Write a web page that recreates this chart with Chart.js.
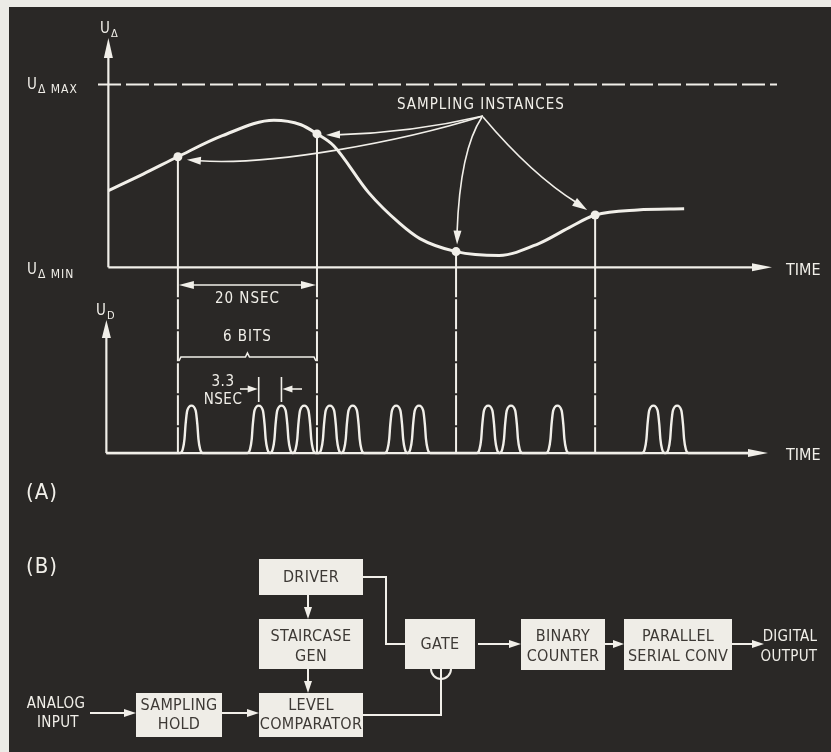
<!DOCTYPE html>
<html>
<head>
<meta charset="utf-8">
<script src="https://cdn.jsdelivr.net/npm/chart.js@4.4.1/dist/chart.umd.min.js"></script>
<style>
  html, body { margin: 0; padding: 0; background: #2a2826; }
  #wrap { position: relative; width: 831px; height: 752px; }
</style>
</head>
<body>
<div id="wrap"><canvas id="fig"></canvas></div>
<script>
// (A) analog signal U_delta against time (ns)
const curveTimes  = [0, 5, 10, 16.4, 23.8, 27.7, 30, 32.4, 37.4, 41.9, 44.8, 50, 56.2, 61.9, 66.2, 70, 76.1, 82.8];
const curveValues = [0.42, 0.51, 0.605, 0.72, 0.805, 0.78, 0.73, 0.665, 0.41, 0.24, 0.157, 0.086, 0.065, 0.13, 0.216, 0.286, 0.314, 0.32];

// sampling instances
const sampleTimes  = [10, 30, 50, 70];
const sampleValues = [0.605, 0.73, 0.086, 0.286];

// (A) digital output U_D: centre of every pulse (ns)
const pulseTimes = [11.95, 21.62, 24.89, 28.17, 31.86, 35.14, 41.39, 44.67, 54.62, 57.9, 64.58, 78.38, 81.79];
// shape of one pulse: offset from its centre (ns) and relative height
const pulseOffsets = [-1.63, -1.25, -1.0, -0.85, -0.6, 0, 0.6, 0.85, 1.0, 1.25, 1.63];
const pulseHeights = [0, 0.08, 0.3, 0.6, 0.9, 1, 0.9, 0.6, 0.3, 0.08, 0];

// (B) block diagram labels
const blockLabels = {
  driver: ['DRIVER'],
  stair: ['STAIRCASE', 'GEN'],
  level: ['LEVEL', 'COMPARATOR'],
  hold: ['SAMPLING', 'HOLD'],
  gate: ['GATE'],
  counter: ['BINARY', 'COUNTER'],
  conv: ['PARALLEL', 'SERIAL CONV']
};

const INK = '#f1efe9';
const PAPER = '#2a2826';
const BOX_TEXT = '#3d3935';
const FONT = '"DejaVu Sans Condensed", "DejaVu Sans", sans-serif';

const W = 831, H = 752;
const NS_PX = 7.03;

// value ranges so that the hidden scales line up with the drawing
function xSpan(zeroPx, ppu) { return { min: -zeroPx / ppu, max: (W - zeroPx) / ppu }; }
function ySpan(zeroPx, ppu) { return { min: (zeroPx - H) / ppu, max: zeroPx / ppu }; }

const pulseWave = [{ x: -0.3, y: 0 }];
pulseTimes.forEach(c => {
  pulseOffsets.forEach((o, k) => pulseWave.push({ x: c + o, y: pulseHeights[k] }));
});
pulseWave.push({ x: 92, y: 0 });

function head(ctx, fx, fy, tx, ty, len, half) {
  const a = Math.atan2(ty - fy, tx - fx);
  const c = Math.cos(a), s = Math.sin(a);
  ctx.beginPath();
  ctx.moveTo(tx, ty);
  ctx.lineTo(tx - len * c + half * s, ty - len * s - half * c);
  ctx.lineTo(tx - len * c - half * s, ty - len * s + half * c);
  ctx.closePath();
  ctx.fill();
}

function poly(ctx, pts) {
  ctx.beginPath();
  ctx.moveTo(pts[0][0], pts[0][1]);
  for (let i = 1; i < pts.length; i++) ctx.lineTo(pts[i][0], pts[i][1]);
  ctx.stroke();
}

function label(ctx, s, x, y, size, align, spacing, color) {
  ctx.font = size + 'px ' + FONT;
  ctx.letterSpacing = (spacing || 0) + 'px';
  ctx.textAlign = align || 'left';
  ctx.textBaseline = 'middle';
  ctx.fillStyle = color || INK;
  ctx.fillText(s, x, y);
}

// letter with a subscript, e.g. U with a small delta
function subLabel(ctx, main, sub, x, y, size, subSize) {
  ctx.textBaseline = 'alphabetic';
  ctx.textAlign = 'left';
  ctx.fillStyle = INK;
  ctx.font = size + 'px ' + FONT;
  ctx.letterSpacing = '0px';
  ctx.fillText(main, x, y);
  const w = ctx.measureText(main).width;
  ctx.font = subSize + 'px ' + FONT;
  ctx.letterSpacing = '1px';
  ctx.fillText(sub, x + w + 1, y + 4);
}

function box(ctx, x0, y0, x1, y1, lines, ys) {
  ctx.fillStyle = '#efede7';
  ctx.fillRect(x0, y0, x1 - x0, y1 - y0);
  lines.forEach((s, i) => label(ctx, s, (x0 + x1) / 2, ys[i], 16, 'center', 0.3, BOX_TEXT));
}

const paperPlugin = {
  id: 'paper',
  beforeDraw(chart) {
    const ctx = chart.ctx;
    ctx.save();
    ctx.fillStyle = '#ecebe6';
    ctx.fillRect(0, 0, W, H);
    ctx.fillStyle = PAPER;
    ctx.fillRect(9, 7, W - 9, H - 7);
    ctx.restore();
  }
};

const figurePlugin = {
  id: 'figure',
  afterDatasetsDraw(chart) {
    const ctx = chart.ctx;
    const sx = chart.scales.x, ya = chart.scales.yA, yd = chart.scales.yD;
    const px = t => sx.getPixelForValue(t);
    const pa = u => ya.getPixelForValue(u);
    const pd = v => yd.getPixelForValue(v);
    ctx.save();
    ctx.strokeStyle = INK;
    ctx.fillStyle = INK;
    ctx.lineCap = 'butt';

    // ---- upper axes
    const ax = px(0), a0 = pa(0);
    ctx.lineWidth = 2.2;
    poly(ctx, [[ax, a0], [ax, 50]]);
    head(ctx, ax, 60, ax, 38, 20, 4.5);
    poly(ctx, [[ax, a0], [758, a0]]);
    head(ctx, 740, a0, 772, a0, 20, 4);
    ctx.setLineDash([23, 5]);
    ctx.lineWidth = 2;
    poly(ctx, [[98, pa(1)], [777, pa(1)]]);
    ctx.setLineDash([]);

    // ---- lower axes
    const bx = ax - 2, b0 = pd(0);
    ctx.lineWidth = 2.2;
    poly(ctx, [[bx, b0], [bx, 330]]);
    head(ctx, bx, 340, bx, 320, 18, 4.5);
    poly(ctx, [[bx, b0], [755, b0]]);
    head(ctx, 740, b0, 768, b0, 20, 4);

    // ---- sampling verticals
    sampleTimes.forEach((t, i) => {
      const x = px(t);
      ctx.lineWidth = 2;
      poly(ctx, [[x, pa(sampleValues[i])], [x, a0]]);
      ctx.setLineDash([30, 2]);
      poly(ctx, [[x, a0], [x, b0]]);
      ctx.setLineDash([]);
    });

    // ---- axis labels
    subLabel(ctx, 'U', 'Δ', 100, 33, 15, 11);
    subLabel(ctx, 'U', 'Δ MAX', 27, pa(1) + 4, 15, 12);
    subLabel(ctx, 'U', 'Δ MIN', 27, a0 + 7, 15, 12);
    subLabel(ctx, 'U', 'D', 96, 315, 15, 11);
    label(ctx, 'TIME', 786, a0 + 4, 16, 'left', 0);
    label(ctx, 'TIME', 786, b0 + 3, 16, 'left', 0);

    // ---- sampling instances callout
    label(ctx, 'SAMPLING INSTANCES', 397, 105, 15, 'left', 1);
    const ox = 483, oy = 116;
    const s1 = [px(sampleTimes[0]), pa(sampleValues[0])];
    const s2 = [px(sampleTimes[1]), pa(sampleValues[1])];
    const s3 = [px(sampleTimes[2]), pa(sampleValues[2])];
    const s4 = [px(sampleTimes[3]), pa(sampleValues[3])];
    ctx.lineWidth = 1.6;
    // to sample 2
    let ex = s2[0] + 9, ey = s2[1] + 1;
    ctx.beginPath(); ctx.moveTo(ox, oy); ctx.quadraticCurveTo(410, 133, ex + 10, ey); ctx.stroke();
    head(ctx, 380, ey - 1, ex, ey, 14, 4);
    // to sample 1
    ex = s1[0] + 9; ey = s1[1] + 3;
    ctx.beginPath(); ctx.moveTo(ox, oy); ctx.bezierCurveTo(400, 142, 270, 166, ex + 12, ey + 1); ctx.stroke();
    head(ctx, 240, ey + 4, ex, ey, 14, 4);
    // to sample 3
    ex = s3[0] + 1; ey = s3[1] - 7;
    ctx.beginPath(); ctx.moveTo(ox - 1, oy + 1); ctx.quadraticCurveTo(460, 150, ex, ey - 12); ctx.stroke();
    head(ctx, ex + 0.6, ey - 20, ex, ey, 14, 4);
    // to sample 4
    ex = s4[0] - 8; ey = s4[1] - 5;
    ctx.beginPath(); ctx.moveTo(ox, oy + 1); ctx.quadraticCurveTo(532, 175, ex - 10, ey - 7); ctx.stroke();
    head(ctx, ex - 20, ey - 13, ex, ey, 15, 4.5);

    // ---- 20 NSEC dimension
    const d1 = px(sampleTimes[0]), d2 = px(sampleTimes[1]);
    ctx.lineWidth = 1.6;
    poly(ctx, [[d1 + 10, 285], [d2 - 10, 285]]);
    head(ctx, d2, 285, d1 + 1, 285, 15, 4);
    head(ctx, d1, 285, d2 - 1, 285, 15, 4);
    label(ctx, '20 NSEC', (d1 + d2) / 2, 299, 15, 'center', 1);
    label(ctx, '6 BITS', (d1 + d2) / 2, 337, 15, 'center', 1);
    const mid = (d1 + d2) / 2;
    poly(ctx, [[d1 + 1, 361], [d1 + 3, 357], [mid - 2, 357], [mid, 353], [mid + 2, 357], [d2 - 3, 357], [d2 - 1, 361]]);

    // ---- 3.3 NSEC marks
    const m1 = px(pulseTimes[1]), m2 = px(pulseTimes[2]);
    ctx.lineWidth = 1.6;
    poly(ctx, [[m1, 377], [m1, 402]]);
    poly(ctx, [[m2, 377], [m2, 402]]);
    poly(ctx, [[240, 389], [m1 - 8, 389]]);
    head(ctx, 240, 389, m1 - 1, 389, 10, 3.5);
    poly(ctx, [[302, 389], [m2 + 8, 389]]);
    head(ctx, 302, 389, m2 + 1, 389, 10, 3.5);
    label(ctx, '3.3', 223, 382, 15, 'center', 0.5);
    label(ctx, 'NSEC', 223, 400, 15, 'center', 0.5);

    // ---- panel letters
    label(ctx, '(A)', 26, 493, 22, 'left', 1);
    label(ctx, '(B)', 26, 567, 22, 'left', 1);

    // ---- block diagram
    box(ctx, 259, 559, 363, 595, blockLabels.driver, [578]);
    box(ctx, 259, 619, 363, 669, blockLabels.stair, [637, 657]);
    box(ctx, 259, 693, 363, 737, blockLabels.level, [706, 725]);
    box(ctx, 136, 693, 222, 737, blockLabels.hold, [706, 725]);
    box(ctx, 405, 619, 475, 669, blockLabels.gate, [645]);
    box(ctx, 521, 619, 605, 670, blockLabels.counter, [637, 657]);
    box(ctx, 624, 619, 732, 670, blockLabels.conv, [637, 657]);

    ctx.strokeStyle = INK;
    ctx.fillStyle = INK;
    ctx.lineWidth = 2;
    poly(ctx, [[90, 713], [126, 713]]); head(ctx, 90, 713, 136, 713, 12, 4);
    poly(ctx, [[222, 713], [249, 713]]); head(ctx, 222, 713, 259, 713, 12, 4);
    poly(ctx, [[308, 595], [308, 610]]); head(ctx, 308, 595, 308, 619, 12, 4);
    poly(ctx, [[308, 669], [308, 684]]); head(ctx, 308, 669, 308, 693, 12, 4);
    poly(ctx, [[363, 577], [386, 577], [386, 644], [405, 644]]);
    poly(ctx, [[363, 715], [441, 715], [441, 669]]);
    ctx.beginPath(); ctx.arc(441, 669, 10, 0, Math.PI); ctx.stroke();
    poly(ctx, [[478, 644], [511, 644]]); head(ctx, 478, 644, 521, 644, 12, 4);
    poly(ctx, [[605, 644], [616, 644]]); head(ctx, 605, 644, 624, 644, 11, 4);
    poly(ctx, [[732, 644], [753, 644]]); head(ctx, 732, 644, 764, 644, 12, 4);

    label(ctx, 'ANALOG', 56, 704, 15, 'center', 0.3);
    label(ctx, 'INPUT', 58, 723, 15, 'center', 0.3);
    label(ctx, 'DIGITAL', 790, 637, 15, 'center', 0.3);
    label(ctx, 'OUTPUT', 789, 657, 15, 'center', 0.3);

    ctx.restore();
  }
};

const xr = xSpan(105, NS_PX);
const yar = ySpan(266, 185);
const ydr = ySpan(454, 48);

new Chart(document.getElementById('fig'), {
  type: 'line',
  data: {
    datasets: [
      {
        label: 'Sampling instances',
        data: sampleTimes.map((t, i) => ({ x: t, y: sampleValues[i] })),
        yAxisID: 'yA',
        showLine: false,
        pointRadius: 4.5,
        pointBackgroundColor: INK,
        pointBorderWidth: 0
      },
      {
        label: 'U delta',
        data: curveTimes.map((t, i) => ({ x: t, y: curveValues[i] })),
        yAxisID: 'yA',
        borderColor: INK,
        borderWidth: 3,
        pointRadius: 0,
        cubicInterpolationMode: 'monotone',
        fill: false
      },
      {
        label: 'U D',
        data: pulseWave,
        yAxisID: 'yD',
        borderColor: INK,
        borderWidth: 2.4,
        pointRadius: 0,
        cubicInterpolationMode: 'monotone',
        fill: false
      }
    ]
  },
  options: {
    responsive: true,
    maintainAspectRatio: false,
    animation: false,
    events: [],
    layout: { padding: 0 },
    plugins: { legend: { display: false }, tooltip: { enabled: false } },
    scales: {
      x: { type: 'linear', display: false, min: xr.min, max: xr.max },
      yA: { type: 'linear', display: false, min: yar.min, max: yar.max },
      yD: { type: 'linear', display: false, min: ydr.min, max: ydr.max }
    }
  },
  plugins: [paperPlugin, figurePlugin]
});
</script>
</body>
</html>
